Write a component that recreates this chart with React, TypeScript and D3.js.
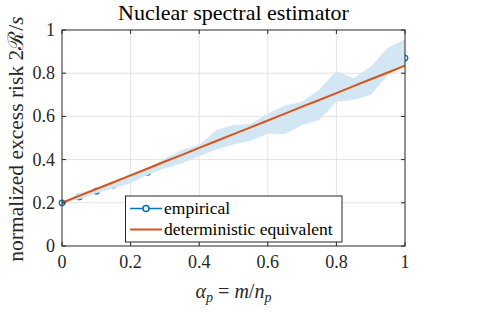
import React from "react";
import * as d3 from "d3";

// alpha_p grid (0 .. 1 in steps of 0.05)
const ALPHA = [0, 0.05, 0.1, 0.15, 0.2, 0.25, 0.3, 0.35, 0.4, 0.45, 0.5, 0.55, 0.6, 0.65, 0.7, 0.75, 0.8, 0.85, 0.9, 0.95, 1];
// empirical mean and shaded band
const EMPIRICAL = [0.2, 0.227, 0.254, 0.282, 0.313, 0.341, 0.383, 0.414, 0.442, 0.492, 0.515, 0.526, 0.567, 0.584, 0.614, 0.655, 0.738, 0.727, 0.764, 0.854, 0.87];
const BAND_UPPER = [0.2, 0.244, 0.267, 0.298, 0.336, 0.36, 0.406, 0.445, 0.468, 0.537, 0.56, 0.565, 0.614, 0.65, 0.668, 0.725, 0.81, 0.777, 0.83, 0.918, 0.957];
const BAND_LOWER = [0.2, 0.216, 0.244, 0.267, 0.29, 0.329, 0.36, 0.383, 0.415, 0.447, 0.47, 0.487, 0.52, 0.518, 0.56, 0.585, 0.667, 0.677, 0.699, 0.79, 0.838];
// deterministic equivalent
const DETERMINISTIC = [0.2, 0.232, 0.264, 0.295, 0.327, 0.359, 0.391, 0.422, 0.454, 0.486, 0.518, 0.549, 0.581, 0.613, 0.645, 0.676, 0.708, 0.74, 0.772, 0.803, 0.835];

const X_TICKS = [0, 0.2, 0.4, 0.6, 0.8, 1];
const Y_TICKS = [0, 0.2, 0.4, 0.6, 0.8, 1];

const BLUE = "#0072BD";
const ORANGE = "#D95319";
const AXIS = "#262626";
const serif = { fontFamily: "'Liberation Serif'" };

export default function App() {
  const width = 489;
  const height = 321;
  const left = 62, right = 405, top = 30, bottom = 246;

  const x = d3.scaleLinear().domain([0, 1]).range([left, right]);
  const y = d3.scaleLinear().domain([0, 1]).range([bottom, top]);

  const line = d3
    .line<number>()
    .x((_, i) => x(ALPHA[i]))
    .y((d) => y(d));

  const band = d3
    .area<number>()
    .x((_, i) => x(ALPHA[i]))
    .y0((_, i) => y(BAND_LOWER[i]))
    .y1((d) => y(d));

  const fmt = (v: number) => (v === 0 || v === 1 ? String(v) : v.toFixed(1));
  const tickLen = 4;

  return (
    <svg width={width} height={height} style={{ position: "absolute", left: 0, top: 0, background: "#fff" }}>
      {/* grid */}
      {X_TICKS.slice(1, -1).map((t) => (
        <line key={"gx" + t} x1={x(t)} x2={x(t)} y1={top} y2={bottom} stroke="#e3e3e3" strokeWidth={1} />
      ))}
      {Y_TICKS.slice(1, -1).map((t) => (
        <line key={"gy" + t} x1={left} x2={right} y1={y(t)} y2={y(t)} stroke="#e3e3e3" strokeWidth={1} />
      ))}

      {/* empirical line + markers (mostly under the band) */}
      <path d={line(EMPIRICAL) || ""} fill="none" stroke={BLUE} strokeWidth={1.5} />
      {EMPIRICAL.map((v, i) => (
        <circle key={"m" + i} cx={x(ALPHA[i])} cy={y(v)} r={2.75} fill="none" stroke={BLUE} strokeWidth={1.3} />
      ))}

      {/* shaded band */}
      <path d={band(BAND_UPPER) || ""} fill="#d2e6f3" stroke="none" />

      {/* deterministic equivalent */}
      <path d={line(DETERMINISTIC) || ""} fill="none" stroke={ORANGE} strokeWidth={2} />

      {/* axes box */}
      <rect x={left} y={top} width={right - left} height={bottom - top} fill="none" stroke={AXIS} strokeWidth={1} />
      {X_TICKS.map((t) => (
        <g key={"xt" + t}>
          <line x1={x(t)} x2={x(t)} y1={bottom} y2={bottom - tickLen} stroke={AXIS} />
          <line x1={x(t)} x2={x(t)} y1={top} y2={top + tickLen} stroke={AXIS} />
          <text x={x(t)} y={268} textAnchor="middle" fontSize={18} fill={AXIS} style={serif}>
            {fmt(t)}
          </text>
        </g>
      ))}
      {Y_TICKS.map((t) => (
        <g key={"yt" + t}>
          <line x1={left} x2={left + tickLen} y1={y(t)} y2={y(t)} stroke={AXIS} />
          <line x1={right} x2={right - tickLen} y1={y(t)} y2={y(t)} stroke={AXIS} />
          <text x={55} y={y(t)} dy="0.33em" textAnchor="end" fontSize={18} fill={AXIS} style={serif}>
            {fmt(t)}
          </text>
        </g>
      ))}

      {/* title */}
      <text x={(left + right) / 2} y={19.5} textAnchor="middle" fontSize={22} fill="#000" style={serif}>
        Nuclear spectral estimator
      </text>

      {/* x label */}
      <text x={(left + right) / 2} y={298} textAnchor="middle" fontSize={20} fill={AXIS} style={serif}>
        <tspan fontStyle="italic">α</tspan>
        <tspan fontStyle="italic" fontSize={14} dy={4}>p</tspan>
        <tspan dy={-4}> = </tspan>
        <tspan fontStyle="italic">m</tspan>
        <tspan>/</tspan>
        <tspan fontStyle="italic">n</tspan>
        <tspan fontStyle="italic" fontSize={14} dy={4}>p</tspan>
      </text>

      {/* y label */}
      <text
        transform={`translate(23, ${(top + bottom) / 2 + 1}) rotate(-90)`}
        textAnchor="middle"
        fontSize={21.5}
        fill={AXIS}
        style={serif}
      >
        normalized excess risk 2ℛ/<tspan fontStyle="italic">s</tspan>
      </text>

      {/* legend */}
      <g style={serif}>
        <rect x={125.5} y={196} width={216.5} height={46} fill="#fff" stroke={AXIS} strokeWidth={1} />
        <line x1={130} x2={162} y1={208.5} y2={208.5} stroke={BLUE} strokeWidth={1.5} />
        <circle cx={146} cy={208.5} r={3} fill="#fff" stroke={BLUE} strokeWidth={1.5} />
        <text x={164} y={214} fontSize={17.5} fill="#000">empirical</text>
        <line x1={130} x2={162} y1={229.5} y2={229.5} stroke={ORANGE} strokeWidth={2} />
        <text x={164} y={235} fontSize={17.5} fill="#000">deterministic equivalent</text>
      </g>
    </svg>
  );
}
